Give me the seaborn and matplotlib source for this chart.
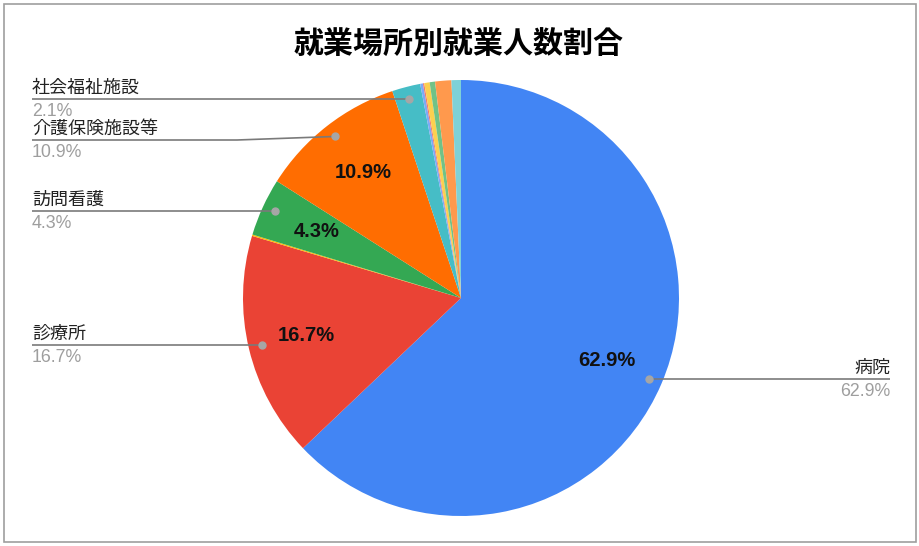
import matplotlib
matplotlib.use("Agg")
import matplotlib.pyplot as plt
import seaborn as sns
import numpy as np
from matplotlib.patches import Rectangle

# ---- data ----
categories = ["病院", "診療所", "助産所", "訪問看護", "介護保険施設等", "社会福祉施設",
              "保健所", "都道府県", "市区町村", "事業所", "看護師等学校養成所・研究機関", "その他"]
shares = [62.9, 16.7, 0.1, 4.3, 10.9, 2.1, 0.2, 0.1, 0.4, 0.4, 1.2, 0.7]
colors = ["#4285F4", "#EA4335", "#FBBC04", "#34A853", "#FF6D01", "#46BDC6",
          "#7BAAF7", "#F07B72", "#FCD04F", "#71C287", "#FF994D", "#7ED1D7"]
title = "就業場所別就業人数割合"

sns.set_theme(style="white")
FONTS = ["Liberation Sans", "Noto Sans CJK JP", "DejaVu Sans"]
plt.rcParams["font.family"] = FONTS

W, H = 920, 546
fig = plt.figure(figsize=(W / 100, H / 100), dpi=100)
ax = fig.add_axes([0, 0, 1, 1])

CX, CY, R = 461, 298, 218  # pixel layout (y from top)


def Y(y):
    return H - y


ax.pie(shares, colors=colors, startangle=90, counterclock=False,
       center=(CX, Y(CY)), radius=R, wedgeprops=dict(linewidth=0))
ax.set_xlim(0, W)
ax.set_ylim(0, H)
ax.set_aspect("equal")
ax.axis("off")

# mid angles (clockwise from top, degrees)
cum = np.cumsum([0] + shares[:-1])
mids = [(c + s / 2) / 100 * 360 for c, s in zip(cum, shares)]


def polar(frac, ang):
    a = np.deg2rad(ang)
    return CX + frac * R * np.sin(a), CY - frac * R * np.cos(a)


# inside labels
for s, m in zip(shares, mids):
    if s >= 4:
        x, y = polar(0.73, m)
        ax.text(x, Y(y), f"{s:.1f}%", ha="center", va="center",
                fontsize=14.5, fontweight="bold", color="#111111", family=FONTS)

# outer labels layout: line y (px) and optional elbow x for each labelled slice
layout = {0: (379, None), 1: (345, None), 3: (211, None), 4: (140, 237), 5: (99, None)}
LEFT_X, RIGHT_X = 32, 890
for i, (ly, elbow) in layout.items():
    dx, dy = polar(0.94, mids[i])
    right = dx > CX
    if elbow is None:
        dy = ly
    ax.plot([dx], [Y(dy)], "o", ms=5, color="#a6a6a6", zorder=5)
    if right:
        xs, ys = [dx, RIGHT_X], [Y(dy), Y(ly)]
        tx, ha = RIGHT_X, "right"
    else:
        if elbow is None:
            xs, ys = [LEFT_X, dx], [Y(ly), Y(dy)]
        else:
            xs, ys = [LEFT_X, elbow, dx], [Y(ly), Y(ly), Y(dy)]
        tx, ha = LEFT_X, "left"
    ax.plot(xs, ys, color="#7a7a7a", lw=1.2, zorder=4, solid_capstyle="butt")
    ax.text(tx, Y(ly - 11), categories[i], ha=ha, va="center",
            fontsize=13, color="#222222", family=FONTS)
    ax.text(tx, Y(ly + 12), f"{shares[i]:.1f}%", ha=ha, va="center",
            fontsize=12.8, color="#9e9e9e", family=FONTS)

ax.text(459, Y(45), title, ha="center", va="center", fontsize=21.6,
        fontweight="bold", color="#000000", family=FONTS)

fig.patches.append(Rectangle((4 / W, 4 / H), 912 / W, 538 / H, transform=fig.transFigure,
                             fill=False, edgecolor="#9e9e9e", lw=1.2))

fig.savefig("out.png", dpi=100, facecolor="white")
